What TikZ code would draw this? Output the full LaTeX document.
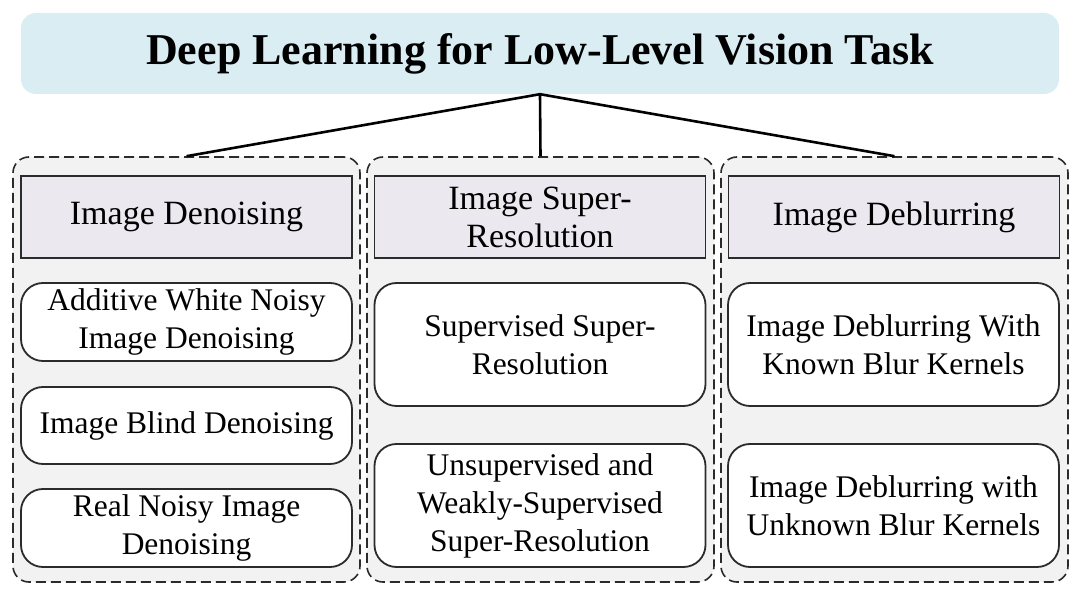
\documentclass[tikz,border=0pt]{standalone}
\usepackage{fontspec}
\setmainfont{Liberation Serif}
\definecolor{titlefill}{HTML}{DAEDF3}
\definecolor{groupfill}{HTML}{F2F2F2}
\definecolor{headfill}{HTML}{EBE8F0}
\definecolor{edge}{HTML}{2B2B2B}
\begin{document}
\begin{tikzpicture}[x=1pt,y=-1pt,
  titlebox/.style={fill=titlefill,rounded corners=15pt,minimum width=1038pt,minimum height=81pt,inner sep=0pt,
    font=\fontsize{44}{50}\selectfont\bfseries},
  groupbox/.style={draw=edge,fill=groupfill,line width=1.6pt,dash pattern=on 10pt off 5pt,rounded corners=16pt,
    minimum width=347pt,minimum height=425pt,inner sep=0pt},
  headbox/.style={draw=edge,fill=headfill,line width=1.8pt,minimum width=331pt,minimum height=82pt,inner sep=0pt,
    align=center,font=\fontsize{34}{38}\selectfont},
  itembox/.style={draw=edge,fill=white,line width=1.8pt,rounded corners=22pt,minimum width=331pt,inner sep=0pt,
    align=center,font=\fontsize{31.5}{38}\selectfont},
  link/.style={draw=black,line width=2.6pt}]
\useasboundingbox (0,0) rectangle (1080,601);
\node[titlebox] (title) at (540,53.5) {Deep Learning for Low-Level Vision Task};
\node[groupbox] (g1) at (186.5,369.5) {};
\node[groupbox] (g2) at (540.5,369.5) {};
\node[groupbox] (g3) at (894.5,369.5) {};
\draw[link] (title.south) -- (g1.north);
\draw[link] (title.south) -- (g2.north);
\draw[link] (title.south) -- (g3.north);
\node[headbox] (h1) at (186.5,217) {Image Denoising};
\node[headbox] (h2) at (540,217) {Image Super-\\Resolution};
\node[headbox] (h3) at (894,217) {Image Deblurring};
\node[itembox,minimum height=78pt] (c11) at (186.5,322) {Additive White Noisy\\Image Denoising};
\node[itembox,minimum height=77pt] (c12) at (186.5,425.5) {Image Blind Denoising};
\node[itembox,minimum height=78pt] (c13) at (186.5,528) {Real Noisy Image\\Denoising};
\node[itembox,minimum height=123pt] (c21) at (540,344.5) {Supervised Super-\\Resolution};
\node[itembox,minimum height=123pt] (c22) at (540,505.5) {Unsupervised and\\Weakly-Supervised\\Super-Resolution};
\node[itembox,minimum height=123pt] (c31) at (893.5,344.5) {Image Deblurring With\\Known Blur Kernels};
\node[itembox,minimum height=123pt] (c32) at (893.5,505.5) {Image Deblurring with\\Unknown Blur Kernels};
\end{tikzpicture}
\end{document}
